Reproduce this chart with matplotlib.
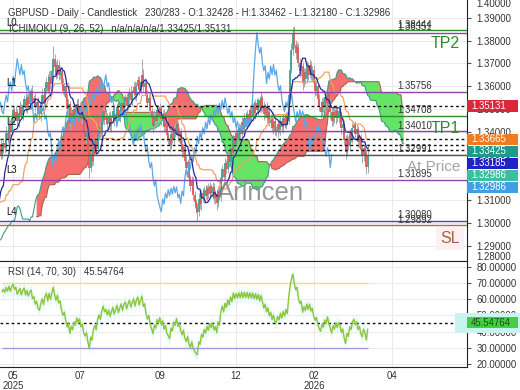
import matplotlib
matplotlib.use("Agg")
import matplotlib.pyplot as plt
import matplotlib.transforms as mtransforms
from matplotlib.patches import Rectangle
import numpy as np

plt.rcParams['font.family'] = ['Liberation Sans', 'DejaVu Sans']

# ---------------- data ----------------
# closes before the visible window (needed by the Ichimoku / RSI look-back)
warm_close = [1.2760, 1.2735, 1.2712, 1.2740, 1.2778, 1.2805, 1.2790, 1.2822, 1.2850, 1.2836,
              1.2868, 1.2892, 1.2875, 1.2910, 1.2935, 1.2918, 1.2896, 1.2925, 1.2950, 1.2972,
              1.2990, 1.3012, 1.2995, 1.3020, 1.3046, 1.3030, 1.3055, 1.3078, 1.3060, 1.3042,
              1.3065, 1.3090, 1.3072, 1.3048, 1.3025, 1.3060, 1.3110, 1.3165, 1.3090, 1.2990,
              1.2905, 1.2850, 1.2920, 1.3010, 1.2965, 1.3120, 1.3085, 1.3210, 1.3160, 1.3275,
              1.3345, 1.3298]

# visible daily closes
close = [1.3318, 1.3352, 1.3330, 1.3395, 1.3370, 1.3435, 1.3402, 1.3458, 1.3495, 1.3462,
         1.3488, 1.3445, 1.3481, 1.3510, 1.3472, 1.3518, 1.3545, 1.3506, 1.3552, 1.3521,
         1.3560, 1.3578, 1.3532, 1.3550, 1.3508, 1.3529, 1.3490, 1.3478, 1.3525, 1.3560,
         1.3531, 1.3590, 1.3618, 1.3580, 1.3642, 1.3610, 1.3668, 1.3720, 1.3682, 1.3650,
         1.3695, 1.3651, 1.3668, 1.3612, 1.3580, 1.3602, 1.3548, 1.3498, 1.3520, 1.3440,
         1.3482, 1.3455, 1.3501, 1.3478, 1.3522, 1.3490, 1.3512, 1.3455, 1.3470, 1.3402,
         1.3378, 1.3395, 1.3310, 1.3240, 1.3302, 1.3271, 1.3335, 1.3360, 1.3322, 1.3391,
         1.3422, 1.3390, 1.3448, 1.3490, 1.3452, 1.3470, 1.3432, 1.3468, 1.3425, 1.3458,
         1.3490, 1.3446, 1.3478, 1.3510, 1.3465, 1.3495, 1.3528, 1.3490, 1.3532, 1.3551,
         1.3512, 1.3548, 1.3575, 1.3538, 1.3570, 1.3598, 1.3560, 1.3602, 1.3625, 1.3585,
         1.3620, 1.3650, 1.3598, 1.3615, 1.3560, 1.3528, 1.3550, 1.3490, 1.3462, 1.3425,
         1.3470, 1.3448, 1.3495, 1.3470, 1.3502, 1.3455, 1.3478, 1.3420, 1.3440, 1.3385,
         1.3362, 1.3340, 1.3392, 1.3370, 1.3418, 1.3395, 1.3432, 1.3380, 1.3402, 1.3345,
         1.3312, 1.3335, 1.3270, 1.3241, 1.3265, 1.3198, 1.3162, 1.3188, 1.3120, 1.3092,
         1.3068, 1.3048, 1.3105, 1.3082, 1.3130, 1.3108, 1.3146, 1.3118, 1.3152, 1.3126,
         1.3160, 1.3132, 1.3158, 1.3110, 1.3126, 1.3085, 1.3140, 1.3118, 1.3198, 1.3235,
         1.3202, 1.3262, 1.3238, 1.3295, 1.3268, 1.3330, 1.3305, 1.3380, 1.3348, 1.3395,
         1.3370, 1.3418, 1.3390, 1.3442, 1.3412, 1.3460, 1.3432, 1.3478, 1.3448, 1.3495,
         1.3466, 1.3512, 1.3480, 1.3525, 1.3495, 1.3538, 1.3502, 1.3548, 1.3515, 1.3478,
         1.3505, 1.3462, 1.3488, 1.3440, 1.3462, 1.3418, 1.3445, 1.3402, 1.3398, 1.3432,
         1.3410, 1.3448, 1.3420, 1.3458, 1.3432, 1.3470, 1.3448, 1.3560, 1.3672, 1.3760,
         1.3835, 1.3782, 1.3745, 1.3770, 1.3702, 1.3668, 1.3690, 1.3612, 1.3660, 1.3632,
         1.3688, 1.3650, 1.3695, 1.3648, 1.3670, 1.3612, 1.3580, 1.3602, 1.3545, 1.3510,
         1.3488, 1.3530, 1.3508, 1.3552, 1.3525, 1.3568, 1.3520, 1.3485, 1.3445, 1.3488,
         1.3460, 1.3495, 1.3462, 1.3490, 1.3470, 1.3418, 1.3436, 1.3365, 1.3312, 1.3365,
         1.3338, 1.3392, 1.3370, 1.3415, 1.3430, 1.3392, 1.3410, 1.3355, 1.3372, 1.3318,
         1.3292, 1.3330, 1.3305, 1.3243, 1.3299]

# upper / lower wick lengths in pips (warm-up bars first, then visible bars)
up_wick = [18, 12, 25, 9, 14, 22, 30, 11, 16, 8, 20, 27, 13, 19, 24, 10, 15, 21, 12, 17,
           26, 9, 14, 31, 18, 11, 23, 16, 20, 13, 28, 15, 10, 19, 22, 14, 35, 48, 20, 15,
           12, 18, 30, 42, 25, 19, 16, 22, 14, 18, 12, 20,
           14, 22, 18, 30, 12, 25, 17, 28, 20, 15, 24, 11, 19, 26, 13, 21, 16, 29, 12, 18,
           23, 15, 27, 10, 19, 14, 22, 17, 25, 31, 18, 26, 20, 35, 24, 28, 40, 55, 22, 30,
           26, 18, 21, 15, 24, 12, 19, 16, 22, 14, 27, 18, 25, 13, 20, 24, 17, 21, 15, 19,
           12, 18, 10, 22, 26, 19, 15, 24, 17, 21, 13, 25, 18, 22, 16, 28, 12, 19, 23, 15,
           20, 26, 14, 18, 24, 11, 21, 17, 25, 13, 19, 22, 16, 27, 12, 20, 24, 15, 21, 18,
           23, 68, 26, 19, 15, 22, 17, 24, 12, 20, 26, 14, 21, 18, 25, 13, 19, 22, 16, 24,
           15, 21, 18, 26, 12, 20, 24, 17, 19, 14, 22, 11, 18, 25, 16, 21, 13, 19, 15, 20,
           12, 18, 26, 20, 15, 23, 17, 21, 14, 25, 18, 12, 22, 19, 16, 24, 20, 27, 15, 21,
           18, 24, 14, 20, 26, 17, 22, 12, 19, 25, 15, 21, 18, 24, 13, 20, 26, 16, 22, 19,
           25, 14, 21, 17, 23, 12, 19, 26, 15, 20, 18, 24, 13, 22, 17, 25, 14, 19, 21, 16,
           23, 18, 12, 20, 25, 16, 22, 35, 40, 30, 25, 28, 20, 24, 18, 22, 26, 15, 21, 19,
           24, 17, 22, 14, 19, 25, 16, 21, 13, 20, 24, 18, 22, 15, 27, 19, 14, 23, 17, 21,
           16, 24, 19, 13, 22, 18, 25, 15, 20, 26, 14, 21, 17, 23, 12, 19, 25, 16, 22, 18,
           24, 15, 21, 19, 48]
low_wick = [15, 20, 11, 24, 17, 9, 13, 26, 18, 21, 12, 16, 28, 10, 19, 23, 14, 11, 25, 18,
            13, 20, 27, 12, 16, 22, 9, 18, 14, 24, 11, 19, 26, 15, 12, 20, 17, 25, 40, 52,
            45, 30, 18, 15, 22, 13, 19, 11, 24, 16, 14, 18,
            19, 13, 24, 16, 21, 11, 27, 15, 18, 23, 12, 20, 25, 14, 17, 22, 10, 19, 26, 15,
            16, 24, 12, 21, 18, 27, 14, 22, 31, 13, 20, 17, 25, 11, 19, 23, 15, 21, 28, 18,
            14, 22, 19, 27, 16, 24, 13, 20, 26, 32, 15, 21, 18, 24, 12, 19, 25, 17, 22, 26,
            20, 28, 24, 45, 18, 22, 15, 19, 26, 13, 21, 17, 24, 14, 22, 18, 27, 12, 20, 23,
            16, 21, 25, 13, 19, 24, 17, 22, 14, 20, 26, 15, 21, 18, 23, 12, 19, 25, 16, 22,
            14, 20, 18, 26, 22, 19, 24, 17, 28, 30, 15, 21, 24, 13, 19, 26, 20, 23, 18, 25,
            16, 27, 14, 20, 23, 17, 13, 21, 25, 19, 24, 22, 18, 26, 20, 28, 22, 25, 19, 27,
            24, 38, 16, 21, 25, 18, 22, 15, 24, 19, 21, 17, 26, 23, 28, 30, 14, 19, 22, 16,
            20, 13, 25, 18, 22, 16, 12, 24, 19, 14, 21, 17, 23, 15, 20, 26, 13, 18, 22, 16,
            14, 21, 18, 24, 13, 20, 17, 15, 23, 26, 19, 22, 25, 16, 24, 21, 27, 18, 15, 22,
            17, 23, 19, 25, 14, 21, 18, 12, 20, 16, 24, 15, 26, 22, 19, 27, 23, 30, 17, 21,
            19, 24, 16, 22, 25, 20, 23, 18, 26, 21, 28, 17, 22, 24, 19, 26, 23, 29, 18, 22,
            20, 25, 18, 23, 21, 26, 28, 24, 32, 19, 17, 22, 16, 20, 18, 23, 26, 24, 28, 22,
            30, 21, 35, 27, 25]

# horizontal levels
level_values = [1.38444, 1.38351, 1.35756, 1.34708, 1.34010, 1.32991, 1.31895, 1.30080, 1.29892]
level_kinds = ['tp', 'lv', 'lv', 'tp', 'lv', 'at', 'lv', 'lv4', 'sl']
level_names = ['', 'L0', 'L1', '', 'L2', '', 'L3', 'L4', '']
zone_labels = [(1.38444, 'TP2'), (1.34708, 'TP1'), (1.32991, 'At Price'), (1.29892, 'SL')]
dotted_values = [1.35131, 1.33665, 1.33425, 1.33185]
tag_values = [1.35131, 1.33665, 1.33425, 1.33185, 1.32986, 1.32986]
tag_colors = ['#d9283c', '#f07a22', '#1c9a8a', '#2222c4', '#3cbf9c', '#3f9fe2']

price_ticks = [1.29, 1.30, 1.31, 1.32, 1.33, 1.34, 1.35, 1.36, 1.37, 1.38, 1.39]
rsi_ticks = [20, 30, 40, 50, 60, 70, 80]
date_ticks = [7.9, 56.3, 114.0, 169.0, 225.3, 281.6]
date_labels = ['05\n2025', '07', '09', '12', '02\n2026', '04']

rsi_period, rsi_hi, rsi_lo, rsi_last = 14, 70, 30, 45.54764

header1 = "GBPUSD - Daily - Candlestick   230/283 - O:1.32428 - H:1.33462 - L:1.32180 - C:1.32986"
header2 = "ICHIMOKU (9, 26, 52)   n/a/n/a/n/a/1.33425/1.35131"

# ---------------- derived series ----------------
closes = np.array(warm_close + close)
N, W = len(closes), len(warm_close)
opens = np.r_[closes[0], closes[:-1]]
highs = np.maximum(opens, closes) + np.array(up_wick) * 1e-4
lows = np.minimum(opens, closes) - np.array(low_wick) * 1e-4
idx = np.arange(N) - W


def midline(h, l, n):
    out = np.full(len(h), np.nan)
    for k in range(n - 1, len(h)):
        out[k] = (h[k - n + 1:k + 1].max() + l[k - n + 1:k + 1].min()) / 2
    return out


tenkan = midline(highs, lows, 9)
kijun = midline(highs, lows, 26)
spanA = (tenkan + kijun) / 2
spanB = midline(highs, lows, 52)
xl = idx + 26

d = np.diff(closes)
g, l_ = np.clip(d, 0, None), np.clip(-d, 0, None)
rsi = np.full(N, np.nan)
ag, al = g[:rsi_period].mean(), l_[:rsi_period].mean()
rsi[rsi_period] = 100 - 100 / (1 + ag / al)
for k in range(rsi_period + 1, N):
    ag = (ag * (rsi_period - 1) + g[k - 1]) / rsi_period
    al = (al * (rsi_period - 1) + l_[k - 1]) / rsi_period
    rsi[k] = 100 - 100 / (1 + ag / al)

# ---------------- figure ----------------
fig = plt.figure(figsize=(5.2, 3.9), dpi=100)
ax = fig.add_axes([0, (390 - 261) / 390, 467 / 520, 261 / 390])
ax2 = fig.add_axes([0, (390 - 367) / 390, 467 / 520, 106 / 390])

x0, x1 = -1.44, 335.7
txt = '#333333'
fs = 6.9

for a in (ax, ax2):
    a.set_xlim(x0, x1)
    a.spines['left'].set_visible(False)
    a.spines['right'].set_color('#222222')
    a.grid(True, color='#e9e9e9', lw=0.7)
    a.set_axisbelow(True)
    a.yaxis.tick_right()
    a.tick_params(axis='y', length=3, pad=4, labelsize=fs, labelcolor=txt, colors='#555555')
ax.spines['top'].set_visible(False)
ax.spines['bottom'].set_color('#222222')
ax2.spines['top'].set_color('#222222')
ax2.spines['bottom'].set_color('#222222')

ax.set_ylim(1.28324, 1.39782)
ax.set_yticks(price_ticks)
ax.set_yticklabels([f"{v:.5f}" for v in price_ticks])
ax.set_xticks(date_ticks)
ax.tick_params(axis='x', length=0, labelbottom=False)

# cloud
ax.fill_between(xl, spanA, spanB, where=spanA >= spanB, interpolate=True,
                color='#f45f5f', alpha=0.9, lw=0, zorder=1)
ax.fill_between(xl, spanA, spanB, where=spanB > spanA, interpolate=True,
                color='#55e255', alpha=0.9, lw=0, zorder=1)
ax.plot(xl, spanA, color='#3a9c86', lw=0.8, zorder=1.5)
ax.plot(xl, spanB, color='#b0604a', lw=0.8, zorder=1.5)

# candles
up = closes >= opens
ax.vlines(idx, lows, highs, color='#a9a9a9', lw=0.7, zorder=2)
ax.vlines(idx[up], opens[up], closes[up], color='#3ea58e', lw=1.3, zorder=2.1)
ax.vlines(idx[~up], opens[~up], closes[~up], color='#e35a5a', lw=1.3, zorder=2.1)

# ichimoku lines
ax.plot(idx - 26, closes, color='#5aa8e6', lw=0.9, zorder=3)
ax.plot(idx, kijun, color='#f2a463', lw=0.9, zorder=3)
ax.plot(idx, tenkan, color='#26269c', lw=0.9, zorder=3.1)

# horizontal levels
lcol = {'tp': '#2e8b2e', 'lv': '#8e44ad', 'lv4': '#5a3cc0', 'at': '#555555', 'sl': '#b86a4a'}
bl = mtransforms.blended_transform_factory(ax.transAxes, ax.transData)
for v, k, nm in zip(level_values, level_kinds, level_names):
    ax.axhline(v, color=lcol[k], lw=1.0, zorder=4)
    ax.annotate(f"{v:.5f}", xy=(397 / 467, v), xycoords=bl, xytext=(0, 0.5),
                textcoords='offset points', va='bottom', ha='left', fontsize=fs,
                color=txt, zorder=6)
    if nm:
        ax.annotate(nm, xy=(6 / 467, v), xycoords=bl, xytext=(0, 3),
                    textcoords='offset points', va='bottom', ha='left', fontsize=fs,
                    color='#111111', zorder=6)
for v in dotted_values:
    ax.axhline(v, color='#111111', lw=1.0, ls=(0, (2, 2)), zorder=4)

zcol = {'TP2': '#2e8b2e', 'TP1': '#2e8b2e', 'At Price': '#a3a3a3', 'SL': '#a8603e'}
for v, s in zone_labels:
    kw = {}
    if s == 'SL':
        kw['bbox'] = dict(boxstyle='square,pad=0.25', fc='#fdf0f5', ec='none')
    ax.annotate(s, xy=(460 / 467, v), xycoords=bl, xytext=(0, -4),
                textcoords='offset points', va='top', ha='right',
                fontsize=11.5 if s != 'At Price' else 11, color=zcol[s], zorder=6, **kw)

ax.text(261 / 467, 1 - 193 / 261, 'Arincen', transform=ax.transAxes, ha='center',
        va='center', fontsize=18.5, color='#8c8c8c', alpha=0.9, zorder=5)

# price tags on the axis (stacked so they do not overlap)
px = 1 / 2278
sp = 12 * px
prev = None
tag_w = 51 / 467
for v, c in zip(tag_values, tag_colors):
    pos = v if prev is None else min(v, prev - sp)
    prev = pos
    ax.add_patch(Rectangle((1.0, pos - 5.6 * px), tag_w, 11.2 * px, transform=bl, fc=c,
                           ec='none', clip_on=False, zorder=9))
    ax.text(1.0 + 4 / 467, pos, f"{v:.5f}", transform=bl, ha='left', va='center',
            fontsize=fs, color='white', zorder=10, clip_on=False)

fig.text(476 / 520, 1 - 4 / 390, '1.40000', fontsize=fs, color=txt, va='center')
fig.text(476 / 520, 1 - 257 / 390, '1.28000', fontsize=fs, color=txt, va='center')

fig.text(8 / 520, 1 - 12.5 / 390, header1, fontsize=fs, color=txt, va='center')
fig.text(9 / 520, 1 - 29 / 390, header2, fontsize=fs, color=txt, va='center')

# ---------------- RSI panel ----------------
vis = idx >= 0
ax2.set_ylim(18.3, 83.5)
ax2.set_yticks(rsi_ticks)
ax2.set_yticklabels([f"{v:.5f}" for v in rsi_ticks])
ax2.set_xticks(date_ticks)
ax2.set_xticklabels(date_labels, fontsize=fs, color=txt, linespacing=0.95)
ax2.tick_params(axis='x', length=0, pad=3)
ax2.fill_between(idx[vis], rsi[vis] - 4, rsi[vis] + 4, color='#e6f9f7', lw=0, zorder=1)
ax2.hlines(rsi_hi, idx[vis][0], idx[vis][-1], color='#eedd88', lw=1.0, zorder=2)
ax2.hlines(rsi_lo, idx[vis][0], idx[vis][-1], color='#a596e6', lw=1.0, zorder=2)
ax2.axhline(rsi_last, color='#111111', lw=1.0, ls=(0, (2, 2)), zorder=2)
ax2.plot(idx[vis], rsi[vis], color='#8cc43c', lw=1.0, zorder=3)
bl2 = mtransforms.blended_transform_factory(ax2.transAxes, ax2.transData)
ru = 1 / 1.625
ax2.add_patch(Rectangle((0.974, rsi_last - 10 * ru), 0.14, 20 * ru, transform=bl2,
                        fc='#c9f3ee', ec='none', clip_on=False, zorder=8))
ax2.add_patch(Rectangle((1.0, rsi_last - 5.6 * ru), tag_w, 11.2 * ru, transform=bl2,
                        fc='#42d042', ec='none', clip_on=False, zorder=9))
ax2.text(1.0 + 4 / 467, rsi_last, f"{rsi_last:.5f}", transform=bl2, ha='left', va='center',
         fontsize=fs, color='#1c4d1c', zorder=10, clip_on=False)
ax2.text(8 / 467, 1 - 11 / 106, f"RSI ({rsi_period}, {rsi_hi}, {rsi_lo})   {rsi_last:.5f}",
         transform=ax2.transAxes, fontsize=fs, color=txt, va='center', zorder=6)

fig.savefig('out.png', dpi=100, facecolor='white')
